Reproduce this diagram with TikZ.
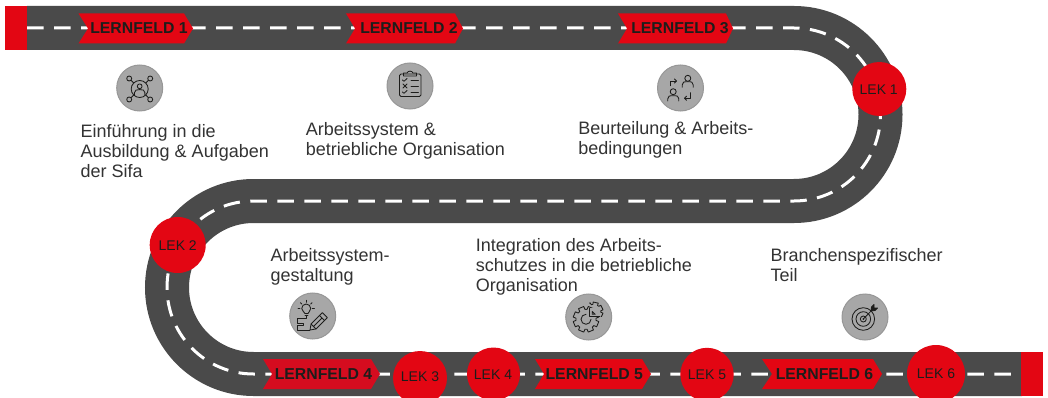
\documentclass[tikz,border=0pt]{standalone}
\usepackage{fontspec}
\usetikzlibrary{calc}
\setmainfont{Liberation Sans}
\definecolor{road}{HTML}{4A4A4A}
\definecolor{brand}{HTML}{E30613}
\definecolor{brandb}{HTML}{D50C1F}
\definecolor{ink}{HTML}{1D1D1B}
\definecolor{body}{HTML}{333333}
\definecolor{disc}{HTML}{A7A7A7}
\definecolor{rim}{HTML}{979797}
\tikzset{
  roadbed/.style={draw=road,line width=44pt},
  lanemark/.style={draw=white,line width=3pt,dash pattern=on 16.5pt off 10.5pt},
  endblock/.style={fill=brand},
  chevfill/.style={fill=brand},
  chevtext/.style={font=\fontsize{15.8}{18}\selectfont\bfseries,text=ink,anchor=base,inner sep=0pt},
  lekdisc/.style={circle,fill=brand,inner sep=0pt},
  lektext/.style={font=\fontsize{14}{16}\selectfont,text=ink,anchor=base,inner sep=0pt},
  icondisc/.style={circle,fill=disc,draw=rim,line width=1pt,minimum size=46pt,inner sep=0pt},
  ic/.style={draw=ink,line width=.85pt,line join=round,line cap=round},
  caption/.style={font=\fontsize{18}{20}\selectfont,text=body,align=left,anchor=north west,inner sep=0pt},
}
\newcommand{\firstln}{\rule{0pt}{13.5pt}}
\newcommand{\chev}[6]{% x0,notch,body,tip,y,fill
  \fill[chevfill,#6] (#1,#5-15) -- (#3,#5-15) -- (#4,#5) -- (#3,#5+15) -- (#1,#5+15) -- (#2,#5) -- cycle;}
\newcommand{\gearpath}[3]{% rout, rin, teeth
  \draw[ic] (0:#2) \foreach \k in {1,...,#3}{
    -- ({(\k-1)*360/#3+6}:#2) -- ({(\k-1)*360/#3+10}:#1) -- ({(\k-1)*360/#3+360/#3-10}:#1)
    -- ({(\k-1)*360/#3+360/#3-6}:#2) -- ({\k*360/#3}:#2)} -- cycle;}
\begin{document}
\begin{tikzpicture}[x=1pt,y=-1pt]
\useasboundingbox (0,0) rectangle (1048,398);
\clip (0,0) rectangle (1048,398);
\fill[white] (0,0) rectangle (1048,398);
% road
\coordinate (rs) at (27,28);
\coordinate (ra) at (794,28);
\coordinate (rb) at (794,201);
\coordinate (rc) at (253.5,201);
\coordinate (rd) at (253.5,374);
\coordinate (re) at (1022,374);
\draw[roadbed] (rs) -- (ra) arc[start angle=-90,end angle=90,radius=86.5] -- (rc) arc[start angle=-90,end angle=-270,radius=86.5] -- (re);
\draw[lanemark] (rs) -- (ra) arc[start angle=-90,end angle=90,radius=86.5] -- (rc) arc[start angle=-90,end angle=-270,radius=86.5] -- (re);
\fill[endblock] (5,6) rectangle (27,50);
\fill[endblock] (1021,352) rectangle (1043,396);
% chevrons
\chev{78.5}{88}{184}{193}{28.5}{}
\chev{346}{355}{455}{463}{28.5}{}
\chev{618}{627}{726}{733}{28.5}{}
\chev{263}{272}{371}{380}{374}{fill=brandb}
\chev{535}{544}{642}{651}{374}{}
\chev{762}{772}{873}{882}{374}{}
\node[chevtext] (lf1) at (139,34) {LERNFELD 1};
\node[chevtext] (lf2) at (409,34) {LERNFELD 2};
\node[chevtext] (lf3) at (680,34) {LERNFELD 3};
\node[chevtext] (lf4) at (323.5,379.5) {LERNFELD 4};
\node[chevtext] (lf5) at (594.3,379.5) {LERNFELD 5};
\node[chevtext] (lf6) at (824.5,379.5) {LERNFELD 6};
% LEK discs
\node[lekdisc,minimum size=54pt] (d1) at (879.3,89) {};
\node[lekdisc,minimum size=56pt] (d2) at (177.7,245) {};
\node[lekdisc,minimum size=54pt] (d3) at (420,378) {};
\node[lekdisc,minimum size=53pt] (d4) at (493.5,374) {};
\node[lekdisc,minimum size=53.4pt] (d5) at (707,374.5) {};
\node[lekdisc,minimum size=58pt] (d6) at (936,374) {};
\node[lektext] (k1) at (878.7,94.3) {LEK 1};
\node[lektext] (k2) at (177.7,250) {LEK 2};
\node[lektext] (k3) at (420,381.7) {LEK 3};
\node[lektext] (k4) at (493,379.3) {LEK 4};
\node[lektext] (k5) at (707,379.3) {LEK 5};
\node[lektext] (k6) at (936,378) {LEK 6};
% captions
\node[caption] (t1) at (80.5,123.5) {\firstln Einführung in die\\Ausbildung \& Aufgaben\\der Sifa};
\node[caption] (t2) at (305.7,121.5) {\firstln Arbeitssystem \&\\betriebliche Organisation};
\node[caption] (t3) at (578.2,120.5) {\firstln Beurteilung \& Arbeits-\\bedingungen};
\node[caption] (t4) at (270.4,247.5) {\firstln Arbeitssystem-\\gestaltung};
\node[caption] (t5) at (475.6,237.5) {\firstln Integration des Arbeits-\\schutzes in die betriebliche\\Organisation};
\node[caption] (t6) at (770.3,247.5) {\firstln Branchenspezifischer\\Teil};
% icon discs
\node[icondisc] (i1) at (139.7,88) {};
\node[icondisc] (i2) at (410,86) {};
\node[icondisc] (i3) at (680.5,88) {};
\node[icondisc] (i4) at (312.7,316) {};
\node[icondisc] (i5) at (588.7,317) {};
\node[icondisc] (i6) at (865,317) {};
% icon 1: person in a network
\begin{scope}[shift={(139.7,89)}]
  \draw[ic] (0,0) circle[radius=8.5];
  \draw[ic] (0,-2.7) circle[radius=2.4];
  \draw[ic] (-5.2,5.6) -- (-5.2,3.6) .. controls (-5.2,1) and (-3,.6) .. (0,.6) .. controls (3,.6) and (5.2,1) .. (5.2,3.6) -- (5.2,5.6);
  \foreach \sx/\sy in {-1/-1,1/-1,-1/1,1/1}{
    \draw[ic] (\sx*10.5,\sy*10.5) circle[radius=2.5];
    \draw[ic] (\sx*8.7,\sy*8.7) -- (\sx*6,\sy*6);
  }
\end{scope}
% icon 2: clipboard
\begin{scope}[shift={(410,86)}]
  \draw[ic,rounded corners=1.5pt] (-10.5,-12) rectangle (11,10.5);
  \draw[ic] (-6.5,-10) -- (-6.5,-13) -- (-3,-13) .. controls (-2,-15.5) and (2,-15.5) .. (3,-13) -- (6.5,-13) -- (6.5,-10) -- cycle;
  \foreach \yy in {-6,0,6}{\draw[ic] (1,\yy) -- (8.5,\yy);}
  \draw[ic] (-7.5,-6) -- (-6,-4.7) -- (-3,-7.5);
  \draw[ic] (-7,-2) -- (-3,2) (-3,-2) -- (-7,2);
  \draw[ic] (-7.5,6) -- (-6,7.3) -- (-3,4.5);
\end{scope}
% icon 3: exchange between two persons
\begin{scope}[shift={(680.5,88)}]
  \draw[ic] (7.3,-9.7) circle[radius=3];
  \draw[ic] (1.7,-.7) -- (1.7,-3) .. controls (1.7,-6) and (3.5,-6.3) .. (7.3,-6.3) .. controls (11,-6.3) and (12.7,-6) .. (12.7,-3) -- (12.7,-.7);
  \draw[ic] (-7.3,3.7) circle[radius=3];
  \draw[ic] (-12.7,13) -- (-12.7,10.7) .. controls (-12.7,8) and (-11,7.7) .. (-7.3,7.7) .. controls (-3.5,7.7) and (-1.7,8) .. (-1.7,10.7) -- (-1.7,13);
  \draw[ic] (-9.7,-2.3) -- (-9.7,-7) -- (-4.5,-7);
  \draw[ic] (-6,-9) -- (-4,-7) -- (-6,-5);
  \draw[ic] (10,4.7) -- (10,10.3) -- (4.5,10.3);
  \draw[ic] (6,8.3) -- (4,10.3) -- (6,12.3);
\end{scope}
% icon 4: bulb and pencil
\begin{scope}[shift={(312.7,316)}]
  \draw[ic] (-7.7,-2.5) .. controls (-8,-4) and (-11,-5) .. (-11,-7.5) arc[start angle=180,end angle=360,radius=4.5] .. controls (-2,-5) and (-4.5,-4) .. (-4.7,-2.5) -- cycle;
  \draw[ic] (-7.7,-.7) -- (-4.7,-.7);
  \foreach \a in {180,225,270,315,360}{\draw[ic] ($(-6.5,-7.5)+(\a:6.2)$) -- ($(-6.5,-7.5)+(\a:8.2)$);}
  \draw[ic] (-6,-.7) -- (-6,2) -- (-15,2) -- (-15,7) -- (-9,7) -- (-9,9.5) -- (-15,9.5) -- (-15,14) -- (-3,14);
  \begin{scope}[shift={(-2.7,14)},rotate=45]
    \draw[ic] (0,0) -- (5,-3.5) -- (21,-3.5) -- (21,3.5) -- (5,3.5) -- cycle;
    \draw[ic] (5,-3.5) -- (5,3.5) (17,-3.5) -- (17,3.5) (5,0) -- (17,0);
  \end{scope}
\end{scope}
% icon 5: gears
\begin{scope}[shift={(588.7,317)}]
  \begin{scope}[shift={(-2.7,2.3)}]
    \gearpath{13}{10}{8}
    \draw[ic] (5,0) arc[start angle=0,end angle=270,radius=5];
  \end{scope}
  \fill[disc] (.7,-9) rectangle (14,-.3);
  \draw[ic] (.7,-9) -- (.7,-.3) -- (11,-.3);
  \draw[ic] (3.5,-2.7) -- (3.5,-5.5) -- (6.5,-2.7) -- cycle;
  \begin{scope}
    \clip (.7,-16) rectangle (16,-.3);
    \begin{scope}[shift={(5,-5.5)}]
      \gearpath{9.5}{7.2}{7}
    \end{scope}
  \end{scope}
\end{scope}
% icon 6: target
\begin{scope}[shift={(865,317)}]
  \foreach \rr in {11.3,7.3,3}{\draw[ic] (-1.7,2) circle[radius=\rr];}
  \fill[ink] (-1.7,2) circle[radius=1];
  \draw[ic] (-1.7,2) -- (8.5,-8.5);
  \draw[ic,fill=ink] (6,-6) -- (6.5,-10) -- (9,-12.5) -- (9,-9) -- (12.5,-9) -- (10,-6.5) -- cycle;
\end{scope}
\end{tikzpicture}
\end{document}
